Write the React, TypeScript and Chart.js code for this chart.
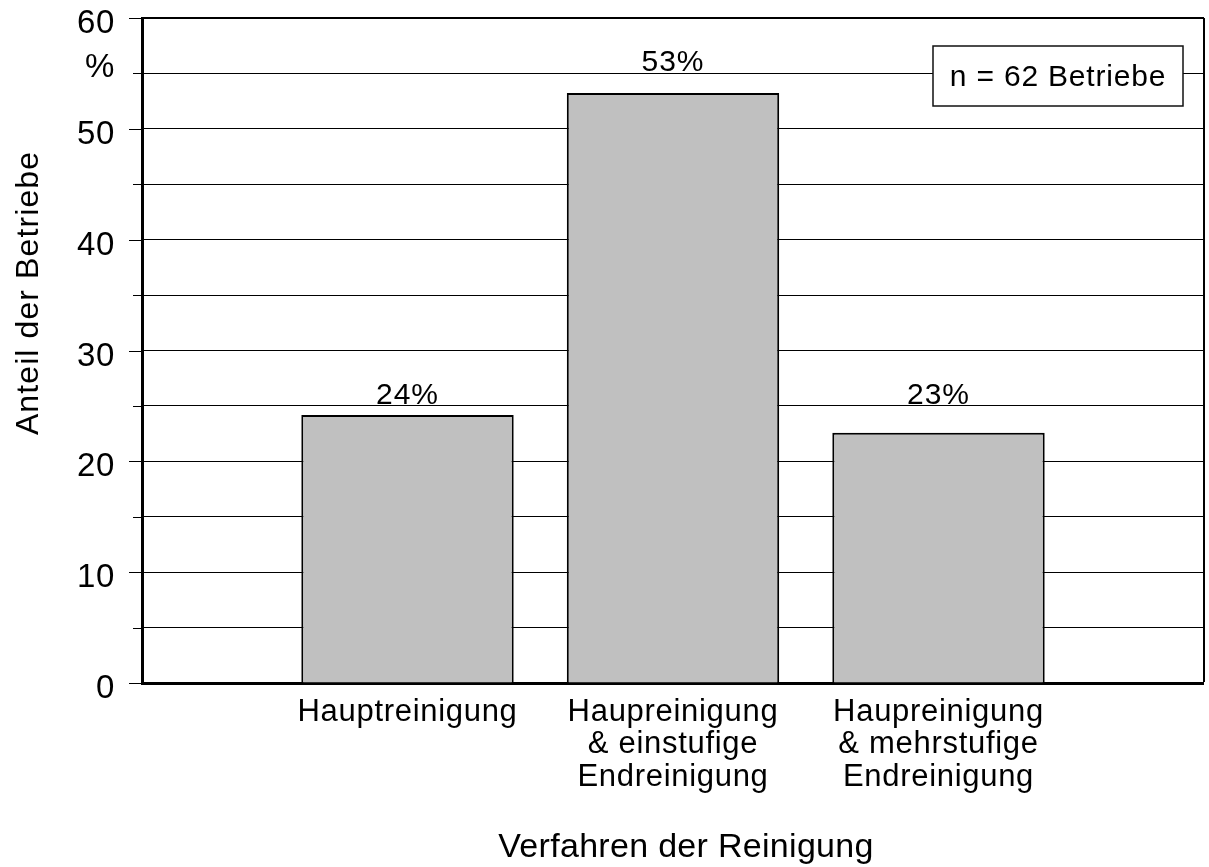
import React, { useEffect, useRef } from 'react';
import { Chart, registerables } from 'chart.js';

Chart.register(...registerables);

// ---- data ----
const categories: (string | string[])[] = [
  '',
  'Hauptreinigung',
  ['Haupreinigung', '& einstufige', 'Endreinigung'],
  ['Haupreinigung', '& mehrstufige', 'Endreinigung'],
  '',
];
const shares: (number | null)[] = [null, 24.19, 53.23, 22.58, null];
const shareLabels: string[] = ['', '24%', '53%', '23%', ''];
// y ticks from 0 to 60 in steps of 5
const yTickLabels: string[] = ['0', '', '10', '', '20', '', '30', '', '40', '', '50', '%', '60'];
const yTitle = 'Anteil der Betriebe';
const xTitle = 'Verfahren der Reinigung';
const sampleNote = 'n = 62 Betriebe';

const FONT = '"Liberation Sans", Arial, Helvetica, sans-serif';

const setSpacing = (ctx: CanvasRenderingContext2D, px: number) => {
  (ctx as any).letterSpacing = px + 'px';
};

const decor = {
  id: 'decor',
  beforeUpdate(chart: any) {
    setSpacing(chart.ctx, 0.7);
  },
  beforeDraw(chart: any) {
    setSpacing(chart.ctx, 0.7);
  },
  afterDatasetsDraw(chart: any) {
    const { ctx, chartArea, scales } = chart;
    const y = scales.y;
    ctx.save();
    setSpacing(ctx, 1);

    // y tick marks (long at labelled values, short between)
    ctx.strokeStyle = '#000';
    ctx.lineWidth = 1;
    y.ticks.forEach((t: any) => {
      const py = Math.round(y.getPixelForValue(t.value)) + 0.5;
      const len = t.value % 10 === 0 ? 13 : 9;
      ctx.beginPath();
      ctx.moveTo(chartArea.left - len, py);
      ctx.lineTo(chartArea.left, py);
      ctx.stroke();
    });

    // value labels above bars
    const meta = chart.getDatasetMeta(0);
    ctx.fillStyle = '#000';
    ctx.font = `30px ${FONT}`;
    ctx.textAlign = 'center';
    ctx.textBaseline = 'alphabetic';
    meta.data.forEach((el: any, i: number) => {
      const v = shares[i];
      if (v == null) return;
      const anchor = y.getPixelForValue(Math.ceil(v / 5) * 5);
      ctx.fillText(shareLabels[i], el.x, anchor - 2);
    });

    // sample size box
    const bw = 250;
    const bh = 60;
    const bx = chartArea.right - 21 - bw;
    const by = chartArea.top + 28;
    ctx.fillStyle = '#fff';
    ctx.fillRect(bx, by, bw, bh);
    ctx.strokeStyle = '#111';
    ctx.lineWidth = 1.5;
    ctx.strokeRect(bx, by, bw, bh);
    ctx.fillStyle = '#000';
    ctx.font = `30px ${FONT}`;
    setSpacing(ctx, 0.8);
    ctx.textAlign = 'center';
    ctx.textBaseline = 'alphabetic';
    ctx.fillText(sampleNote, bx + bw / 2, by + 40);

    // x axis title
    ctx.font = `34px ${FONT}`;
    setSpacing(ctx, 0.3);
    ctx.fillText(xTitle, (chartArea.left + chartArea.right) / 2 + 13, chartArea.bottom + 174);

    // y axis title
    setSpacing(ctx, 1.1);
    ctx.font = `32px ${FONT}`;
    ctx.translate(38, chartArea.top + 275);
    ctx.rotate(-Math.PI / 2);
    ctx.textAlign = 'center';
    ctx.fillText(yTitle, 0, 0);

    ctx.restore();
  },
};

export default function App() {
  const ref = useRef<HTMLCanvasElement | null>(null);

  useEffect(() => {
    if (!ref.current) return;
    const chart = new Chart(ref.current, {
      type: 'bar',
      data: {
        labels: categories as any,
        datasets: [
          {
            data: shares as any,
            backgroundColor: '#c0c0c0',
            borderColor: '#000',
            borderWidth: 2,
            barPercentage: 0.8,
            categoryPercentage: 1,
          },
        ],
      },
      options: {
        animation: false,
        responsive: true,
        maintainAspectRatio: false,
        events: [],
        layout: { padding: { top: 18, right: 5, left: 0, bottom: 0 } },
        plugins: {
          legend: { display: false },
          tooltip: { enabled: false },
          title: { display: false },
        },
        scales: {
          x: {
            type: 'category',
            offset: false,
            grid: {
              display: true,
              offset: false,
              drawTicks: false,
              drawOnChartArea: true,
              color: '#000',
              lineWidth: (c: any) => (c.index === categories.length - 1 ? 2 : 0),
            },
            border: { display: true, width: 3, color: '#000' },
            ticks: {
              autoSkip: false,
              maxRotation: 0,
              minRotation: 0,
              padding: 13,
              color: '#000',
              font: { family: FONT, size: 31, lineHeight: '32.5px' as any },
            },
            afterFit: (scale: any) => {
              scale.height = 184;
              scale.paddingLeft = 0;
              scale.paddingRight = 0;
            },
          },
          y: {
            type: 'linear',
            min: 0,
            max: 60,
            grid: {
              drawTicks: false,
              color: '#000',
              lineWidth: (c: any) => (c.tick && c.tick.value === 60 ? 2 : 1),
            },
            border: { display: true, width: 3, color: '#000' },
            ticks: {
              stepSize: 5,
              padding: 27,
              color: '#000',
              font: { family: FONT, size: 33, lineHeight: '12px' as any },
              callback: (_v: any, index: number) => {
                const s = yTickLabels[index] ?? '';
                if (s === '') return '';
                if (s === '%') return [s, ''];
                return ['', s];
              },
            },
            afterFit: (scale: any) => {
              scale.width = 142;
              scale.paddingTop = 0;
              scale.paddingBottom = 0;
            },
          },
        },
      },
      plugins: [decor],
    });
    return () => chart.destroy();
  }, []);

  return (
    <div style={{ position: 'fixed', left: 0, top: 0, width: 1209, height: 867, background: '#fff' }}>
      <canvas ref={ref} />
    </div>
  );
}
